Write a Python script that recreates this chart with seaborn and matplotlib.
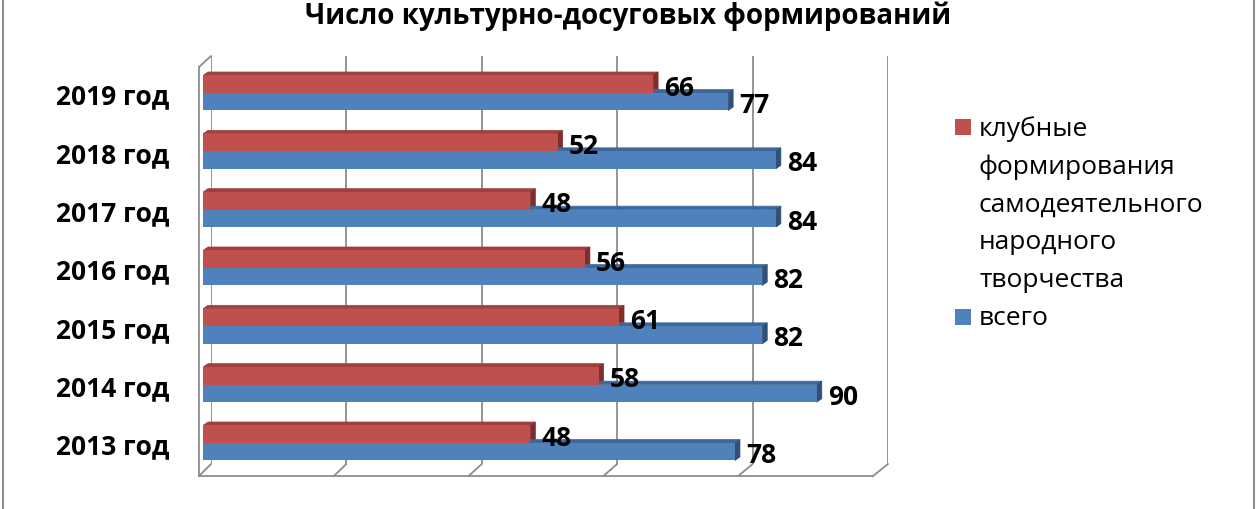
import pandas as pd
import seaborn as sns
import matplotlib.pyplot as plt
from matplotlib.patches import Polygon, Rectangle
from matplotlib.lines import Line2D

# data
years = ['2013 год', '2014 год', '2015 год', '2016 год', '2017 год', '2018 год', '2019 год']
club = [48, 58, 61, 56, 48, 52, 66]
total = [78, 90, 82, 82, 84, 84, 77]
series = ['клубные\nформирования\nсамодеятельного\nнародного\nтворчества', 'всего']
xticks = [0, 20, 40, 60, 80, 100]
title = 'Число культурно-досуговых формирований'

colors = ['#C0504D', '#4F81BD']
tops = ['#A0403D', '#3F689A']
sides = ['#7F2E2C', '#2F5079']
grid_col = '#8C8C8C'

df = pd.DataFrame({
    'year': years + years,
    'value': club + total,
    'series': [series[0]] * len(years) + [series[1]] * len(years),
})

W, H = 1260, 510
sns.set_style('white')
plt.rcParams['font.family'] = ['Open Sans', 'DejaVu Sans']
plt.rcParams['text.color'] = 'black'
plt.rcParams['ytick.color'] = 'black'

fig = plt.figure(figsize=(W / 100, H / 100), dpi=100)


def px_axes(l, t, r, b):
    # axes placed by pixel box (top-left origin)
    return fig.add_axes([l / W, 1 - b / H, (r - l) / W, (b - t) / H])


# back wall: vertical gridlines
ax_back = px_axes(211, 57, 888, 465)
ax_back.set_xlim(0, 100)
ax_back.set_xticks(xticks)
ax_back.set_yticks([])
ax_back.tick_params(axis='x', length=0, labelbottom=False)
ax_back.grid(axis='x', color=grid_col, lw=1.3)
for s in ax_back.spines.values():
    s.set_visible(False)
ax_back.patch.set_alpha(0)

# front plane: floor line with ticks and left wall edge
ax_front = px_axes(199, 68, 873, 477)
ax_front.set_xlim(0, 100)
ax_front.set_xticks(xticks)
ax_front.set_yticks([])
ax_front.tick_params(axis='x', direction='out', length=7.5, width=1.3, color=grid_col, labelbottom=False)
for k in ['top', 'right']:
    ax_front.spines[k].set_visible(False)
for k in ['left', 'bottom']:
    ax_front.spines[k].set_color(grid_col)
    ax_front.spines[k].set_linewidth(1.3)
ax_front.patch.set_alpha(0)


def fig_pt(ax, x, y):
    px, py = ax.transData.transform((x, y))
    return px / W, py / H


# floor diagonals and top edge of the left wall
for v in xticks:
    f = fig_pt(ax_front, v, 0)
    b = fig_pt(ax_back, v, 0)
    fig.add_artist(Line2D([f[0], b[0]], [f[1], b[1]], color=grid_col, lw=1.3))
fig.add_artist(Line2D([fig_pt(ax_front, 0, 1)[0], fig_pt(ax_back, 0, 1)[0]],
                      [fig_pt(ax_front, 0, 1)[1], fig_pt(ax_back, 0, 1)[1]],
                      color=grid_col, lw=1.3))

# bars
ax = px_axes(203, 57, 885, 477)
sns.barplot(data=df, x='value', y='year', hue='series', order=years[::-1], hue_order=series,
            palette=colors, saturation=1, width=0.6, gap=0, orient='h', legend=False, ax=ax,
            zorder=3, linewidth=0, edgecolor='none')
ax.set_xlim(0, 100)
ax.set_ylim(6.566, -0.634)
ax.patch.set_alpha(0)
for s in ax.spines.values():
    s.set_visible(False)
ax.set_xticks([])
ax.set_xlabel('')
ax.set_ylabel('')
ax.tick_params(axis='y', length=0, pad=24)
for lab in ax.get_yticklabels():
    lab.set_fontsize(19)
    lab.set_fontweight('bold')
    lab.set_color('black')

# fake 3d faces on every bar
xpp = 100 / (885 - 203)
ypp = (6.566 + 0.634) / (477 - 57)
dx, dy = 5 * xpp, 3.5 * ypp
for i, cont in enumerate(ax.containers):
    for p in cont.patches:
        x0, y0 = p.get_x(), p.get_y()
        x1, y1 = x0 + p.get_width(), y0 + p.get_height()
        top = Polygon([(x0, y0), (x0 + dx, y0 - dy), (x1 + dx, y0 - dy), (x1, y0)],
                      closed=True, fc=tops[i], ec=tops[i], lw=0.5, zorder=2.5)
        side = Polygon([(x1, y0), (x1 + dx, y0 - dy), (x1 + dx, y1 - dy), (x1, y1)],
                       closed=True, fc=sides[i], ec=sides[i], lw=0.5, zorder=2.5)
        ax.add_patch(top)
        ax.add_patch(side)
        ax.annotate(f'{int(p.get_width())}', (x1, (y0 + y1) / 2), xytext=(8, -2),
                    textcoords='offset points', ha='left', va='center', color='black',
                    fontsize=19, fontweight='bold', annotation_clip=False)

# legend drawn by hand so the swatch sits on the first line
leg_y = [120, 310]
for i, lab in enumerate(series):
    fig.add_artist(Rectangle((955 / W, 1 - (leg_y[i] + 16) / H), 16 / W, 16 / H,
                             transform=fig.transFigure, fc=colors[i], ec='none'))
    fig.text(979 / W, 1 - (leg_y[i] - 4) / H, lab, ha='left', va='top',
             fontsize=19, linespacing=1.66, color='black')

# title near the top edge as in the source
fig.text(628 / W, 1 - 24 / H, title, ha='center', va='baseline', fontsize=20, fontweight='bold',
         color='black')

# outer chart frame
fig.add_artist(Rectangle((3 / W, -0.1), (1254 - 3) / W, 1.2, transform=fig.transFigure,
                         fc='none', ec=grid_col, lw=1.5))

fig.savefig('out.png', dpi=100)
